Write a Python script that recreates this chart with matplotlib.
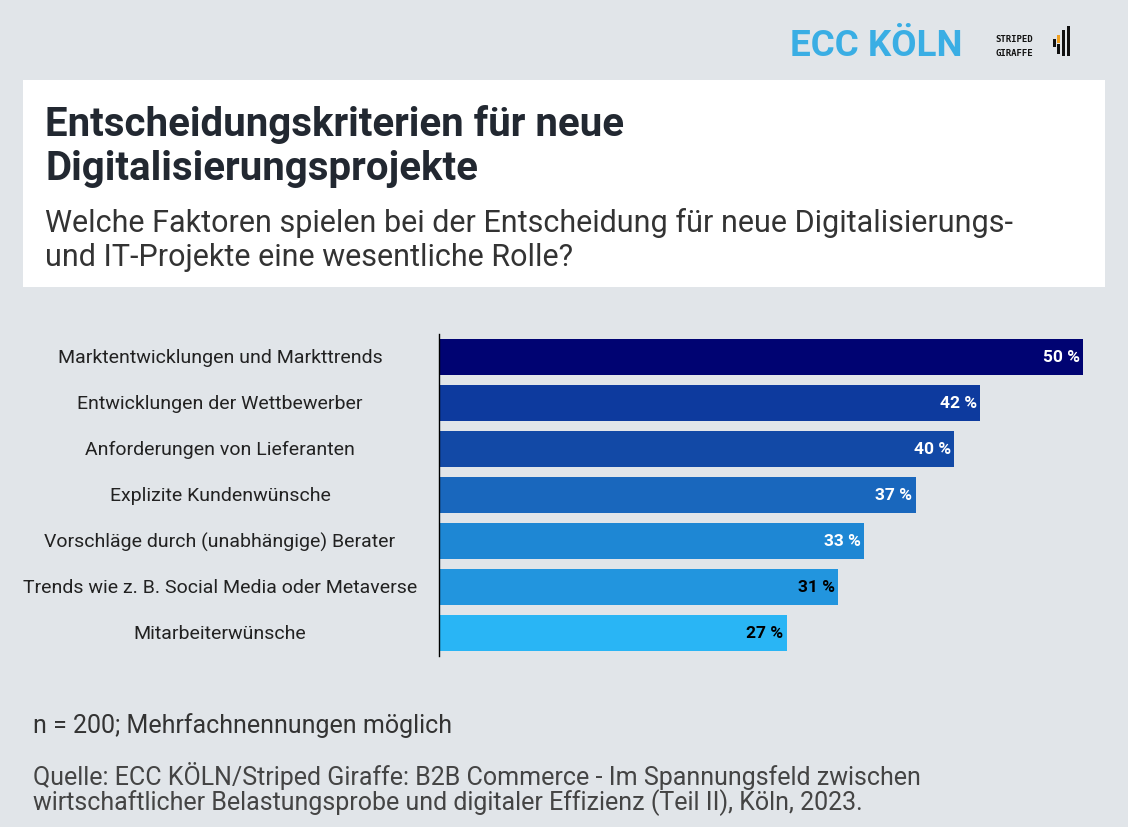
import matplotlib.pyplot as plt
from matplotlib.patches import Rectangle

W, H = 1128, 828
BG = "#E1E5E9"

categories = [
    "Marktentwicklungen und Markttrends",
    "Entwicklungen der Wettbewerber",
    "Anforderungen von Lieferanten",
    "Explizite Kundenwünsche",
    "Vorschläge durch (unabhängige) Berater",
    "Trends wie z. B. Social Media oder Metaverse",
    "Mitarbeiterwünsche",
]
values = [50, 42, 40, 37, 33, 31, 27]
bar_colors = ["#000372", "#0D3A9E", "#1249A6", "#1967BD", "#1E87D4", "#2295DE", "#29B5F5"]
label_colors = ["white", "white", "white", "white", "white", "black", "black"]

plt.rcParams["font.family"] = ["Roboto", "DejaVu Sans"]

fig = plt.figure(figsize=(W / 100, H / 100), dpi=100)
fig.patch.set_facecolor(BG)


def fx(px):
    return px / W


def fy(py):
    return 1 - py / H


# white header box
fig.patches.append(Rectangle((fx(23), fy(288)), fx(1105) - fx(23), (288 - 81) / H,
                             transform=fig.transFigure, facecolor="white", edgecolor="none"))

fig.text(fx(45), fy(125), "Entscheidungskriterien für neue", fontsize=29, fontweight="bold",
         color="#222831", va="center")
fig.text(fx(45), fy(169), "Digitalisierungsprojekte", fontsize=29, fontweight="bold",
         color="#222831", va="center")
fig.text(fx(45), fy(223), "Welche Faktoren spielen bei der Entscheidung für neue Digitalisierungs-",
         fontsize=22, color="#333333", va="center")
fig.text(fx(45), fy(257), "und IT-Projekte eine wesentliche Rolle?",
         fontsize=22, color="#333333", va="center")

# logos
fig.text(fx(790), fy(46), "ECC KÖLN", fontsize=26.5, fontweight="bold", color="#3AAEE4", va="center")
fig.text(fx(995), fy(40), "STRIPED", fontsize=6.5, fontweight="bold", color="#111111", va="center",
         family="DejaVu Sans Mono")
fig.text(fx(995), fy(53), "GIRAFFE", fontsize=6.5, fontweight="bold", color="#111111", va="center",
         family="DejaVu Sans Mono")
for x0, y0, y1, c in [(1053, 40, 48, "#111111"), (1057, 36, 44, "#F0A020"), (1057, 45, 55, "#111111"),
                      (1062, 31, 57, "#111111"), (1067, 27, 57, "#111111")]:
    fig.patches.append(Rectangle((fx(x0), fy(y1)), 2.5 / W, (y1 - y0) / H,
                                 transform=fig.transFigure, facecolor=c, edgecolor="none"))

# bar chart
ax = fig.add_axes([fx(439), fy(657), fx(1083) - fx(439), (657 - 335) / H])
ax.set_facecolor("none")
ypos = list(range(len(values)))
ax.barh(ypos, values, height=0.8, color=bar_colors)
ax.set_xlim(0, 50)
ax.set_ylim(len(values) - 0.5, -0.5)
for s in ["top", "right", "bottom"]:
    ax.spines[s].set_visible(False)
ax.spines["left"].set_color("black")
ax.spines["left"].set_linewidth(1)
ax.set_xticks([])
ax.set_yticks([])
for y, v, c in zip(ypos, values, label_colors):
    ax.text(v - 0.25, y, f"{v} %", ha="right", va="center", fontsize=12.5, fontweight="bold", color=c)
# category labels are centered in the left column
for y, cat in zip(ypos, categories):
    fig.text(fx(220), ax.transData.transform((0, y))[1] / H, cat, ha="center", va="center",
             fontsize=14, color="#222222")

fig.text(fx(33), fy(726), "n = 200; Mehrfachnennungen möglich", fontsize=18, color="#333333", va="center")
fig.text(fx(33), fy(776), "Quelle: ECC KÖLN/Striped Giraffe: B2B Commerce - Im Spannungsfeld zwischen",
         fontsize=18, color="#444444", va="center")
fig.text(fx(33), fy(803), "wirtschaftlicher Belastungsprobe und digitaler Effizienz (Teil II), Köln, 2023.",
         fontsize=18, color="#444444", va="center")

fig.savefig("out.png", dpi=100, facecolor=BG)
